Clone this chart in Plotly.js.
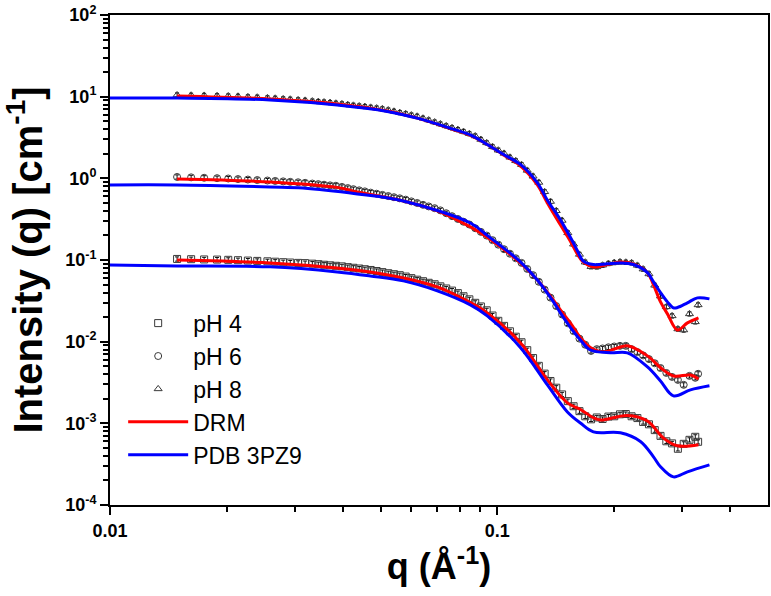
<!DOCTYPE html>
<html>
<head>
<meta charset="utf-8">
<script src="https://cdn.plot.ly/plotly-3.0.1.min.js"></script>
<style>
  html, body { margin: 0; padding: 0; background: #fff; }
  #chart { width: 771px; height: 596px; }
</style>
</head>
<body>
<div id="chart"></div>
<script>
// measured q grid (1/A) shared by the three data sets
var q = [
  0.0149, 0.0162, 0.0175, 0.0189, 0.0202, 0.0214, 0.0227, 0.024, 0.0255, 0.0267,
  0.028, 0.0292, 0.0306, 0.0319, 0.0333, 0.0345, 0.0357, 0.037, 0.0383, 0.0397,
  0.0411, 0.0425, 0.044, 0.0455, 0.0471, 0.0488, 0.0505, 0.0523, 0.0541, 0.056,
  0.058, 0.06, 0.0621, 0.0643, 0.0665, 0.0689, 0.0713, 0.0738, 0.0764, 0.0791,
  0.0818, 0.0847, 0.0877, 0.0907, 0.0939, 0.0972, 0.1006, 0.1041, 0.1078, 0.1116,
  0.1155, 0.1195, 0.1237, 0.128, 0.1325, 0.1372, 0.142, 0.147, 0.1521, 0.1574,
  0.163, 0.1687, 0.1746, 0.1807, 0.187, 0.1936, 0.2004, 0.2074, 0.2147, 0.2222,
  0.23, 0.238, 0.2464, 0.255, 0.2639, 0.2732, 0.2827, 0.2926, 0.3029, 0.3135,
  0.3245, 0.33
];

// intensities (cm^-1)
var pH4 = [
  0.103, 0.1023, 0.1016, 0.1012, 0.1005, 0.0995, 0.0984, 0.0975, 0.0964, 0.0953,
  0.094, 0.0931, 0.0922, 0.0916, 0.0902, 0.0889, 0.0875, 0.0861, 0.0849, 0.0836,
  0.0818, 0.0803, 0.0787, 0.0771, 0.0755, 0.0733, 0.0711, 0.0689, 0.067, 0.0652,
  0.0627, 0.06, 0.0574, 0.055, 0.0526, 0.0505, 0.0476, 0.0448, 0.0422, 0.0393,
  0.036, 0.033, 0.0299, 0.027, 0.0242, 0.0209, 0.018, 0.0156, 0.0134, 0.0115,
  0.00984, 0.00787, 0.0063, 0.00506, 0.00406, 0.0033, 0.00273, 0.00226, 0.00187, 0.00162,
  0.00141, 0.00122, 0.00112, 0.00118, 0.00113, 0.00121, 0.00122, 0.00129, 0.0013, 0.00122,
  0.00116, 0.00104, 0.000973, 0.000826, 0.000702, 0.000603, 0.000568, 0.000488, 0.000561, 0.000628,
  0.000684, 0.000594
];
var pH6 = [
  1.04, 1.028, 1.016, 1.005, 0.995, 0.98, 0.966, 0.953, 0.94, 0.929,
  0.918, 0.906, 0.895, 0.881, 0.863, 0.849, 0.835, 0.82, 0.811, 0.785,
  0.76, 0.736, 0.713, 0.692, 0.668, 0.648, 0.627, 0.607, 0.587, 0.569,
  0.548, 0.522, 0.499, 0.474, 0.453, 0.431, 0.405, 0.374, 0.344, 0.318,
  0.294, 0.272, 0.245, 0.221, 0.199, 0.175, 0.154, 0.1355, 0.1194, 0.105,
  0.0922, 0.0778, 0.0652, 0.0541, 0.0434, 0.0346, 0.0273, 0.0215, 0.0168, 0.01346,
  0.01089, 0.00917, 0.0077, 0.0081, 0.00826, 0.00853, 0.00873, 0.00889, 0.00889, 0.0081,
  0.00745, 0.00679, 0.00612, 0.00544, 0.00476, 0.00414, 0.0037, 0.0034, 0.00296, 0.00381,
  0.00361, 0.00404
];
var pH8 = [
  10.49, 10.4, 10.35, 10.26, 10.2, 10.1, 9.95, 9.84, 9.67, 9.55,
  9.40, 9.29, 9.14, 9.01, 8.83, 8.71, 8.59, 8.47, 8.30, 8.16,
  7.98, 7.83, 7.69, 7.57, 7.40, 7.25, 7.10, 6.86, 6.62, 6.38,
  6.18, 5.95, 5.75, 5.44, 5.17, 4.89, 4.63, 4.39, 4.16, 3.95,
  3.74, 3.52, 3.30, 2.99, 2.72, 2.44, 2.21, 2.02, 1.81, 1.64,
  1.47, 1.25, 1.06, 0.891, 0.685, 0.520, 0.401, 0.305, 0.215, 0.156,
  0.117, 0.094, 0.0828, 0.0824, 0.0863, 0.0906, 0.0931, 0.0948, 0.0938, 0.0924,
  0.0859, 0.0774, 0.0675, 0.049, 0.0361, 0.0267, 0.0207, 0.0143, 0.0139, 0.0219,
  0.0175, 0.0282
];

// DRM fits
var drmQ4 = [0.0149, 0.0259, 0.0386, 0.047, 0.0572, 0.07, 0.0817, 0.0942, 0.1147, 0.1347,
  0.1517, 0.1639, 0.1771, 0.1846, 0.2167, 0.2442, 0.2686, 0.2919, 0.3307];
var drm4 = [0.1, 0.0922, 0.08, 0.0715, 0.0604, 0.0469, 0.0334, 0.0225, 0.0097, 0.0034,
  0.00178, 0.00148, 0.00117, 0.0011, 0.00125, 0.00107, 0.00066, 0.000531, 0.000546];
var drmQ6 = [0.0149, 0.0259, 0.0386, 0.0435, 0.0572, 0.07, 0.0852, 0.0942, 0.1147, 0.1269,
  0.1395, 0.1455, 0.1544, 0.1639, 0.1739, 0.1879, 0.2079, 0.2167, 0.2442, 0.2639,
  0.285, 0.3153, 0.3307];
var drm6 = [0.984, 0.904, 0.775, 0.68, 0.528, 0.40, 0.254, 0.19, 0.092, 0.057,
  0.0325, 0.0245, 0.017, 0.0112, 0.0085, 0.0075, 0.0086, 0.0089, 0.0067, 0.0048,
  0.0038, 0.0039, 0.0035];
var drmQ8 = [0.0149, 0.0259, 0.0386, 0.052, 0.0632, 0.077, 0.0852, 0.0942, 0.1036, 0.1147,
  0.1269, 0.1347, 0.1455, 0.1544, 0.161, 0.1668, 0.1771, 0.1924, 0.2079, 0.2246,
  0.2442, 0.2531, 0.2639, 0.275, 0.2919, 0.3097, 0.3307];
var drm8 = [10.2, 9.37, 8.15, 6.68, 5.35, 3.95, 3.35, 2.6, 1.95, 1.42,
  0.83, 0.5, 0.27, 0.17, 0.118, 0.094, 0.082, 0.088, 0.0945, 0.0896,
  0.07, 0.0496, 0.0307, 0.0219, 0.0139, 0.017, 0.0196];

// PDB 3PZ9 curves
var pdbQ4 = [0.01, 0.0149, 0.0259, 0.0386, 0.047, 0.0572, 0.07, 0.0852, 0.0942, 0.1147,
  0.1347, 0.1517, 0.1639, 0.1771, 0.2079, 0.2342, 0.2531, 0.2639, 0.285, 0.3097, 0.353];
var pdb4 = [0.087, 0.0847, 0.0824, 0.0715, 0.0638, 0.0555, 0.0419, 0.0282, 0.0207, 0.0085,
  0.00296, 0.00138, 0.00101, 0.000787, 0.000766, 0.0006, 0.000389, 0.000294, 0.000221, 0.000255, 0.00031];
var pdbQ6 = [0.01, 0.0149, 0.0259, 0.0315, 0.0435, 0.0572, 0.0852, 0.0942, 0.1147, 0.1269,
  0.1395, 0.1455, 0.1544, 0.1639, 0.1739, 0.1959, 0.2167, 0.2442, 0.2639, 0.285,
  0.3153, 0.353];
var pdb6 = [0.83, 0.83, 0.785, 0.762, 0.644, 0.528, 0.284, 0.2, 0.095, 0.057,
  0.031, 0.0225, 0.015, 0.0105, 0.0079, 0.0073, 0.0073, 0.0049, 0.0033, 0.00217,
  0.00257, 0.00288];
var pdbQ8 = [0.01, 0.0149, 0.0259, 0.0386, 0.052, 0.0632, 0.077, 0.0852, 0.0942, 0.1036,
  0.1147, 0.1269, 0.1347, 0.1455, 0.1544, 0.161, 0.1668, 0.1771, 0.1924, 0.2079,
  0.2246, 0.2442, 0.2531, 0.2639, 0.275, 0.285, 0.2919, 0.3097, 0.3287, 0.353];
var pdb8 = [9.64, 9.6, 9.12, 7.91, 6.6, 5.35, 4.0, 3.4, 2.6, 1.97,
  1.48, 0.88, 0.54, 0.31, 0.19, 0.13, 0.097, 0.088, 0.09, 0.092,
  0.088, 0.07, 0.054, 0.04, 0.0307, 0.0259, 0.0262, 0.0299, 0.0344, 0.0334];

// axis labels
var xTickVals = [0.01, 0.1];
var xTickText = ['0.01', '0.1'];
var yTickVals = [1e-4, 1e-3, 1e-2, 1e-1, 1, 10, 100];
var yTickText = ['10<sup>-4</sup>', '10<sup>-3</sup>', '10<sup>-2</sup>', '10<sup>-1</sup>',
  '10<sup>0</sup>', '10<sup>1</sup>', '10<sup>2</sup>'];
var xMinor = [0.02, 0.03, 0.04, 0.05, 0.06, 0.07, 0.08, 0.09, 0.2, 0.3, 0.4];

var yMinor = [];
for (var k = -4; k < 2; k++) {
  for (var m = 2; m < 10; m++) yMinor.push(m * Math.pow(10, k));
}

var FONT = 'Liberation Sans, Arial, sans-serif';
var RED = '#ff0000', BLUE = '#0000ff';

function dataTrace(name, y, symbol) {
  return {
    x: q, y: y, name: name, type: 'scatter', mode: 'markers',
    marker: { symbol: symbol, size: 7, color: '#3a3a3a', line: { width: 1 } },
    error_y: { type: 'percent', value: 6, color: '#111', thickness: 1, width: 2 }
  };
}
function lineTrace(name, x, y, color, show) {
  return {
    x: x, y: y, name: name, type: 'scatter', mode: 'lines', legendgroup: name,
    showlegend: show, line: { color: color, width: 3, shape: 'spline' }
  };
}

var traces = [
  dataTrace('pH 4', pH4, 'square-open'),
  dataTrace('pH 6', pH6, 'circle-open'),
  dataTrace('pH 8', pH8, 'triangle-up-open'),
  lineTrace('DRM', drmQ4, drm4, RED, true),
  lineTrace('DRM', drmQ6, drm6, RED, false),
  lineTrace('DRM', drmQ8, drm8, RED, false),
  lineTrace('PDB 3PZ9', pdbQ4, pdb4, BLUE, true),
  lineTrace('PDB 3PZ9', pdbQ6, pdb6, BLUE, false),
  lineTrace('PDB 3PZ9', pdbQ8, pdb8, BLUE, false)
];

var layout = {
  width: 771, height: 596,
  margin: { l: 110, r: 3, t: 15, b: 91 },
  paper_bgcolor: '#fff', plot_bgcolor: '#fff',
  font: { family: FONT, color: '#000' },
  showlegend: true,
  legend: {
    x: 0.02, y: 0.415, xanchor: 'left', yanchor: 'top',
    bgcolor: 'rgba(0,0,0,0)', borderwidth: 0,
    font: { family: FONT, size: 23, color: '#000' },
    itemwidth: 60, tracegroupgap: 0
  },
  xaxis: {
    type: 'log', range: [-2, Math.log10(0.5)],
    tickmode: 'array', tickvals: xTickVals, ticktext: xTickText,
    ticks: 'outside', ticklen: 8, tickwidth: 2, tickcolor: '#000',
    minor: { tickmode: 'array', tickvals: xMinor, ticks: 'outside', ticklen: 5, tickwidth: 1.5, tickcolor: '#000', showgrid: false },
    tickfont: { family: FONT, size: 18, weight: 'bold' },
    showline: true, linewidth: 2, linecolor: '#000', mirror: true,
    showgrid: false, zeroline: false,
    title: { text: 'q (Å<sup>-1</sup>)', font: { family: FONT, size: 36, weight: 'bold' }, standoff: 12 }
  },
  yaxis: {
    type: 'log', range: [-4, 2],
    tickmode: 'array', tickvals: yTickVals, ticktext: yTickText,
    ticks: 'outside', ticklen: 8, tickwidth: 2, tickcolor: '#000',
    minor: { tickmode: 'array', tickvals: yMinor, ticks: 'outside', ticklen: 5, tickwidth: 1.5, tickcolor: '#000', showgrid: false },
    tickfont: { family: FONT, size: 18, weight: 'bold' },
    showline: true, linewidth: 2, linecolor: '#000', mirror: true,
    showgrid: false, zeroline: false,
    title: { text: 'Intensity (q) [cm<sup>-1</sup>]', font: { family: FONT, size: 40, weight: 'bold' }, standoff: 13 }
  }
};

Plotly.newPlot('chart', traces, layout, { displayModeBar: false, responsive: false });
</script>
</body>
</html>
